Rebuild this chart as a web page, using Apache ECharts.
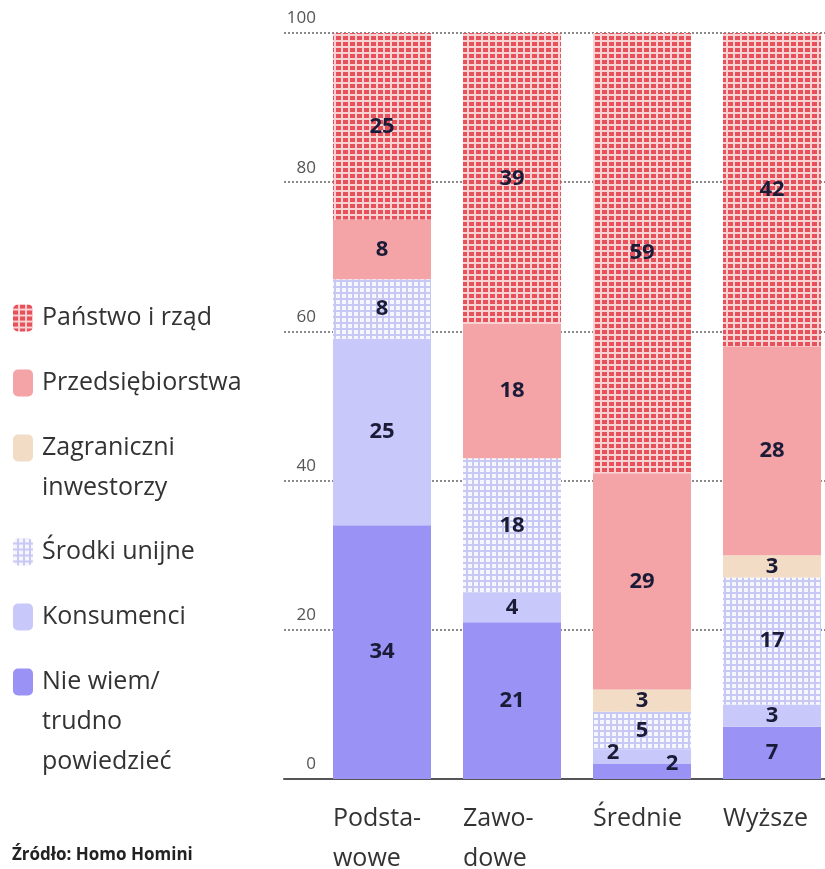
<!DOCTYPE html>
<html>
<head>
<meta charset="utf-8">
<script src="https://cdn.jsdelivr.net/npm/echarts@6/dist/echarts.min.js"></script>
<style>
  html, body { margin: 0; padding: 0; background: #fff; }
  #main { width: 825px; height: 869px; }
</style>
</head>
<body>
<div id="main"></div>
<script>
var categories = ['Podsta-\nwowe', 'Zawo-\ndowe', 'Średnie', 'Wyższe'];
// bottom to top
var nieWiem = [34, 21, 2, 7];
var konsumenci = [25, 4, 2, 3];
var srodkiUnijne = [8, 18, 5, 17];
var zagraniczni = [0, 0, 3, 3];
var przedsiebiorstwa = [8, 18, 29, 28];
var panstwo = [25, 39, 59, 42];

var FONT = '"Open Sans", "Noto Sans", sans-serif';

var pattern = function (bg, fg, w, h, fw, fh) {
	var c = document.createElement('canvas');
	c.width = w;
	c.height = h;
	var ctx = c.getContext('2d');
	ctx.fillStyle = bg;
	ctx.fillRect(0, 0, w, h);
	ctx.fillStyle = fg;
	ctx.fillRect(0, 0, fw, fh);
	return { image: c, repeat: 'repeat' };
};

var redGrid = pattern('#f9d3d4', '#e8505a', 7, 6, 5, 4);
var lilacGrid = pattern('#c8c8f5', '#f6f6ff', 6, 6, 4, 4);

// name, legend text, data, colour
var layers = [
	['Nie wiem/ trudno powiedzieć', '\n\nNie wiem/\ntrudno\npowiedzieć', nieWiem, '#9a93f5'],
	['Konsumenci', 'Konsumenci', konsumenci, '#c9c8fb'],
	['Środki unijne', 'Środki unijne', srodkiUnijne, lilacGrid],
	['Zagraniczni inwestorzy', '\nZagraniczni\ninwestorzy', zagraniczni, '#f2dcc5'],
	['Przedsiębiorstwa', 'Przedsiębiorstwa', przedsiebiorstwa, '#f4a3a6'],
	['Państwo i rząd', 'Państwo i rząd', panstwo, redGrid]
];

// small labels in "Średnie" are pushed aside
var labelShift = {
	'Nie wiem/ trudno powiedzieć': { 2: [30, -8] },
	'Konsumenci': { 2: [-29, -4] }
};

var legendTop = {
	'Państwo i rząd': 298,
	'Przedsiębiorstwa': 363,
	'Zagraniczni inwestorzy': 388,
	'Środki unijne': 532,
	'Konsumenci': 597,
	'Nie wiem/ trudno powiedzieć': 582
};

var legendText = {};
layers.forEach(function (l) { legendText[l[0]] = l[1]; });

var series = layers.map(function (l) {
	return {
		name: l[0],
		type: 'bar',
		stack: 'all',
		xAxisIndex: 1,
		yAxisIndex: 1,
		barWidth: 98,
		itemStyle: { color: l[3] },
		data: l[2].map(function (v, i) {
			var d = { value: v };
			if (labelShift[l[0]] && labelShift[l[0]][i]) {
				d.label = { offset: labelShift[l[0]][i] };
			}
			return d;
		}),
		label: {
			show: true,
			position: 'inside',
			fontFamily: FONT,
			fontWeight: 'bold',
			fontSize: 22,
			color: '#1b1b38',
			formatter: function (p) { return p.value ? p.value : ''; }
		}
	};
});

var legends = layers.slice().reverse().map(function (l) {
	return {
		data: [l[0]],
		orient: 'vertical',
		left: 13,
		top: legendTop[l[0]],
		padding: 0,
		itemWidth: 20,
		itemHeight: 27,
		selectedMode: false,
		formatter: function (name) { return legendText[name]; },
		textStyle: {
			fontFamily: FONT,
			fontSize: 25,
			lineHeight: 40,
			color: '#333',
			padding: [0, 0, 0, 4]
		}
	};
});

var myChart = echarts.init(document.getElementById('main'));
myChart.setOption({
	animation: false,
	title: {
		text: 'Źródło: Homo Homini',
		left: 12,
		top: 847,
		padding: 0,
		textStyle: { fontFamily: FONT, fontWeight: 'bold', fontSize: 17, color: '#222' }
	},
	legend: legends,
	grid: [
		{ left: 284, right: 0, top: 33, bottom: 90, outerBoundsMode: 'none' },
		{ left: 317, right: -12, top: 33, bottom: 90, outerBoundsMode: 'none' }
	],
	xAxis: [
		{
			gridIndex: 0,
			type: 'category',
			data: [''],
			axisLine: { show: true, lineStyle: { color: '#555', width: 2 } },
			axisTick: { show: false },
			axisLabel: { show: false }
		},
		{
			gridIndex: 1,
			type: 'category',
			data: categories,
			axisLine: { show: false },
			axisTick: { show: false },
			axisLabel: {
				fontFamily: FONT,
				fontSize: 25,
				lineHeight: 40,
				color: '#333',
				margin: 20,
				align: 'left',
				padding: [0, 0, 0, -49]
			}
		}
	],
	yAxis: [
		{
			gridIndex: 0,
			type: 'value',
			min: 0,
			max: 100,
			interval: 20,
			axisLine: { show: false },
			axisTick: { show: false },
			axisLabel: { show: false },
			splitLine: { lineStyle: { color: '#8a8a8a', width: 2, type: [2, 2] } }
		},
		{
			gridIndex: 1,
			type: 'value',
			min: 0,
			max: 100,
			interval: 20,
			axisLine: { show: false },
			axisTick: { show: false },
			splitLine: { show: false },
			axisLabel: {
				fontFamily: FONT,
				fontSize: 17,
				color: '#555',
				margin: 1,
				verticalAlign: 'bottom',
				padding: [0, 0, 6, 0]
			}
		}
	],
	series: series
});
</script>
</body>
</html>
